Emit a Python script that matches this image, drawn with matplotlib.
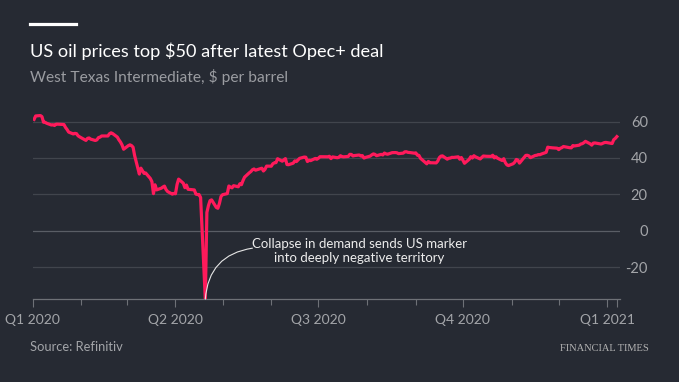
import matplotlib
matplotlib.use("Agg")
import matplotlib.pyplot as plt
import numpy as np
import pandas as pd

# WTI front-month, $ per barrel
trade_dates = [
    # Jan 2020
    "2020-01-02", "2020-01-03", "2020-01-06", "2020-01-07", "2020-01-08", "2020-01-09", "2020-01-10",
    "2020-01-13", "2020-01-14", "2020-01-15", "2020-01-16", "2020-01-17", "2020-01-21", "2020-01-22",
    "2020-01-23", "2020-01-24", "2020-01-27", "2020-01-28", "2020-01-29", "2020-01-30", "2020-01-31",
    # Feb
    "2020-02-03", "2020-02-04", "2020-02-05", "2020-02-06", "2020-02-07", "2020-02-10", "2020-02-11",
    "2020-02-12", "2020-02-13", "2020-02-14", "2020-02-18", "2020-02-19", "2020-02-20", "2020-02-21",
    "2020-02-24", "2020-02-25", "2020-02-26", "2020-02-27", "2020-02-28",
    # Mar
    "2020-03-02", "2020-03-03", "2020-03-04", "2020-03-05", "2020-03-06", "2020-03-09", "2020-03-10",
    "2020-03-11", "2020-03-12", "2020-03-13", "2020-03-16", "2020-03-17", "2020-03-18", "2020-03-19",
    "2020-03-20", "2020-03-23", "2020-03-24", "2020-03-25", "2020-03-26", "2020-03-27", "2020-03-30",
    "2020-03-31",
    # Apr
    "2020-04-01", "2020-04-02", "2020-04-03", "2020-04-06", "2020-04-07", "2020-04-08", "2020-04-09",
    "2020-04-13", "2020-04-14", "2020-04-15", "2020-04-16", "2020-04-17", "2020-04-20", "2020-04-21",
    "2020-04-22", "2020-04-23", "2020-04-24", "2020-04-27", "2020-04-28", "2020-04-29", "2020-04-30",
    # May
    "2020-05-01", "2020-05-04", "2020-05-05", "2020-05-06", "2020-05-07", "2020-05-08", "2020-05-11",
    "2020-05-12", "2020-05-13", "2020-05-14", "2020-05-15", "2020-05-18", "2020-05-19", "2020-05-20",
    "2020-05-21", "2020-05-22", "2020-05-26", "2020-05-27", "2020-05-28", "2020-05-29",
    # Jun
    "2020-06-01", "2020-06-02", "2020-06-03", "2020-06-04", "2020-06-05", "2020-06-08", "2020-06-09",
    "2020-06-10", "2020-06-11", "2020-06-12", "2020-06-15", "2020-06-16", "2020-06-17", "2020-06-18",
    "2020-06-19", "2020-06-22", "2020-06-23", "2020-06-24", "2020-06-25", "2020-06-26", "2020-06-29",
    "2020-06-30",
    # Jul
    "2020-07-01", "2020-07-02", "2020-07-06", "2020-07-07", "2020-07-08", "2020-07-09", "2020-07-10",
    "2020-07-13", "2020-07-14", "2020-07-15", "2020-07-16", "2020-07-17", "2020-07-20", "2020-07-21",
    "2020-07-22", "2020-07-23", "2020-07-24", "2020-07-27", "2020-07-28", "2020-07-29", "2020-07-30",
    "2020-07-31",
    # Aug
    "2020-08-03", "2020-08-04", "2020-08-05", "2020-08-06", "2020-08-07", "2020-08-10", "2020-08-11",
    "2020-08-12", "2020-08-13", "2020-08-14", "2020-08-17", "2020-08-18", "2020-08-19", "2020-08-20",
    "2020-08-21", "2020-08-24", "2020-08-25", "2020-08-26", "2020-08-27", "2020-08-28", "2020-08-31",
    # Sep
    "2020-09-01", "2020-09-02", "2020-09-03", "2020-09-04", "2020-09-08", "2020-09-09", "2020-09-10",
    "2020-09-11", "2020-09-14", "2020-09-15", "2020-09-16", "2020-09-17", "2020-09-18", "2020-09-21",
    "2020-09-22", "2020-09-23", "2020-09-24", "2020-09-25", "2020-09-28", "2020-09-29", "2020-09-30",
    # Oct
    "2020-10-01", "2020-10-02", "2020-10-05", "2020-10-06", "2020-10-07", "2020-10-08", "2020-10-09",
    "2020-10-12", "2020-10-13", "2020-10-14", "2020-10-15", "2020-10-16", "2020-10-19", "2020-10-20",
    "2020-10-21", "2020-10-22", "2020-10-23", "2020-10-26", "2020-10-27", "2020-10-28", "2020-10-29",
    "2020-10-30",
    # Nov
    "2020-11-02", "2020-11-03", "2020-11-04", "2020-11-05", "2020-11-06", "2020-11-09", "2020-11-10",
    "2020-11-11", "2020-11-12", "2020-11-13", "2020-11-16", "2020-11-17", "2020-11-18", "2020-11-19",
    "2020-11-20", "2020-11-23", "2020-11-24", "2020-11-25", "2020-11-27", "2020-11-30",
    # Dec
    "2020-12-01", "2020-12-02", "2020-12-03", "2020-12-04", "2020-12-07", "2020-12-08", "2020-12-09",
    "2020-12-10", "2020-12-11", "2020-12-14", "2020-12-15", "2020-12-16", "2020-12-17", "2020-12-18",
    "2020-12-21", "2020-12-22", "2020-12-23", "2020-12-24", "2020-12-28", "2020-12-29", "2020-12-30",
    "2020-12-31",
    # Jan 2021
    "2021-01-04", "2021-01-05", "2021-01-06", "2021-01-07",
]

wti = [
    # Jan 2020
    61.18, 63.05, 63.27, 62.70, 59.61, 59.56, 59.04,
    58.08, 58.23, 57.81, 58.52, 58.54, 58.34, 56.74,
    55.59, 54.19, 53.14, 53.48, 53.33, 52.14, 51.56,
    # Feb
    50.11, 49.61, 50.75, 50.95, 50.32, 49.57, 49.94,
    51.17, 51.42, 52.05, 52.05, 53.29, 53.78, 53.38,
    51.43, 49.90, 48.73, 47.09, 44.76,
    # Mar
    46.75, 47.18, 46.78, 45.90, 41.28, 31.13, 34.36,
    32.98, 31.50, 31.73, 28.70, 26.95, 20.37, 25.22,
    22.43, 23.36, 24.01, 24.49, 22.60, 21.51, 20.09,
    20.48,
    # Apr
    20.31, 25.32, 28.34, 26.08, 23.63, 25.09, 22.76,
    22.41, 20.11, 19.87, 19.87, 18.27, -37.63, 10.01,
    13.78, 16.50, 16.94, 12.78, 12.34, 15.06, 18.84,
    # May
    19.78, 20.39, 24.56, 23.99, 23.55, 24.74, 24.14,
    25.78, 25.29, 27.56, 29.43, 31.82, 32.50, 33.49,
    33.92, 33.25, 34.35, 32.81, 33.71, 35.49,
    # Jun
    35.44, 36.81, 37.29, 37.41, 39.55, 38.19, 38.94,
    39.60, 36.34, 36.26, 37.12, 38.38, 37.96, 38.84,
    39.75, 40.46, 40.37, 38.01, 38.72, 38.49, 39.70,
    39.27,
    # Jul
    39.82, 40.65, 40.63, 40.62, 40.90, 39.62, 40.55,
    40.10, 40.29, 41.20, 40.75, 40.59, 40.81, 41.96,
    41.90, 41.07, 41.29, 41.60, 41.04, 41.27, 39.92,
    40.27,
    # Aug
    41.01, 41.70, 42.19, 41.95, 41.22, 41.94, 41.61,
    42.67, 42.24, 42.01, 42.89, 42.89, 42.93, 42.82,
    42.34, 42.62, 43.35, 43.39, 43.04, 42.97, 42.61,
    # Sep
    42.76, 41.51, 41.37, 39.77, 36.76, 38.05, 37.30,
    37.33, 37.26, 38.28, 40.16, 40.97, 41.11, 39.31,
    39.80, 39.93, 40.31, 40.25, 40.60, 39.29, 40.22,
    # Oct
    38.72, 37.05, 39.22, 40.67, 39.95, 41.19, 40.60,
    39.43, 40.20, 41.04, 40.96, 40.88, 40.83, 41.46,
    40.03, 40.64, 39.85, 38.56, 39.57, 37.39, 36.17,
    35.79,
    # Nov
    36.81, 37.66, 39.15, 38.79, 37.14, 40.29, 41.36,
    41.45, 41.12, 40.13, 41.34, 41.43, 41.82, 41.74,
    42.15, 43.06, 45.91, 45.71, 45.53, 45.34,
    # Dec
    44.55, 45.28, 45.64, 46.26, 45.76, 45.60, 45.52,
    46.78, 46.57, 46.99, 47.62, 47.82, 48.36, 49.10,
    47.74, 47.02, 48.12, 48.23, 47.62, 48.00, 48.40,
    48.52,
    # Jan 2021
    47.90, 50.00, 50.70, 51.70,
]

quarter_ticks = ["2020-01-01", "2020-04-01", "2020-07-01", "2020-10-01", "2021-01-01"]
quarter_labels = ["Q1 2020", "Q2 2020", "Q3 2020", "Q4 2020", "Q1 2021"]
month_ticks = ["2020-02-01", "2020-03-01", "2020-05-01", "2020-06-01",
               "2020-08-01", "2020-09-01", "2020-11-01", "2020-12-01"]
y_ticks = [-20, 0, 20, 40, 60]

bg = "#262a33"
pink = "#ff1a5b"
grid_col = "#41454d"
axis_col = "#6e7177"
label_col = "#a3a5a9"
font = "Lato"

dates = pd.to_datetime(trade_dates)

fig = plt.figure(figsize=(6.79, 3.82), dpi=100, facecolor=bg)
ax = fig.add_axes([0.0479, 0.2168, 0.8652, 0.4937])
ax.set_facecolor(bg)

x0 = pd.Timestamp("2020-01-01")
x1 = pd.Timestamp("2021-01-09")
ax.set_xlim(x0, x1)
ax.set_ylim(-37.63, 66)

for v in y_ticks:
    ax.axhline(v, color="#5a5e66" if v == 0 else grid_col, lw=0.9, zorder=1)

ax.plot(dates, wti, color=pink, lw=2.3, solid_joinstyle="round", zorder=3)

for s in ["top", "left", "right"]:
    ax.spines[s].set_visible(False)
ax.spines["bottom"].set_color(axis_col)
ax.spines["bottom"].set_linewidth(0.9)

# x axis: quarters labelled, months as small ticks, last data day marked
major = list(pd.to_datetime(quarter_ticks)) + [dates[-1]]
ax.set_xticks(major)
ax.set_xticklabels(quarter_labels + [""])
ax.set_xticks(pd.to_datetime(month_ticks), minor=True)
ax.tick_params(axis="x", which="major", length=6, width=0.8, color=axis_col,
               labelcolor=label_col, labelsize=10, pad=5)
ax.tick_params(axis="x", which="minor", length=4.5, width=0.8, color=axis_col)
for t in ax.get_xticklabels():
    t.set_fontfamily(font)

# y axis on the right
ax.yaxis.tick_right()
ax.set_yticks(y_ticks)
ax.set_yticklabels([str(v) for v in y_ticks])
ax.tick_params(axis="y", length=0, labelcolor=label_col, labelsize=10.5, pad=20)
for t in ax.get_yticklabels():
    t.set_horizontalalignment("right")
    t.set_fontfamily(font)

# annotation for the negative price
ax.annotate("", xy=(pd.Timestamp("2020-04-20"), -37.63),
            xytext=(pd.Timestamp("2020-05-20"), -9.6),
            arrowprops=dict(arrowstyle="-", color="#e6e6e6", lw=0.8,
                            connectionstyle="arc3,rad=0.4", shrinkA=0, shrinkB=0))
ax.text(pd.Timestamp("2020-07-27"), -10.9,
        "Collapse in demand sends US marker\ninto deeply negative territory",
        ha="center", va="center", color="#ececec", fontsize=9.5, family=font,
        linespacing=1.2)

# header and footer
fig.add_artist(plt.Line2D([0.0442, 0.1119], [0.9359, 0.9359], color="white", lw=2.3,
                          transform=fig.transFigure))
fig.text(0.0442, 0.850, "US oil prices top $50 after latest Opec+ deal", color="white",
         fontsize=13.1, family=font, va="baseline")
fig.text(0.0442, 0.786, "West Texas Intermediate, $ per barrel", color="#9a9ca1",
         fontsize=11.2, family=font, va="baseline")
fig.text(0.0442, 0.081, "Source: Refinitiv", color="#a3a5a9", fontsize=9.3,
         family=font, va="baseline")
fig.text(0.956, 0.081, "FINANCIAL TIMES", color="#b3b3b3", fontsize=7.5,
         family="Liberation Serif", va="baseline", ha="right")

fig.savefig("out.png", dpi=100, facecolor=bg)
